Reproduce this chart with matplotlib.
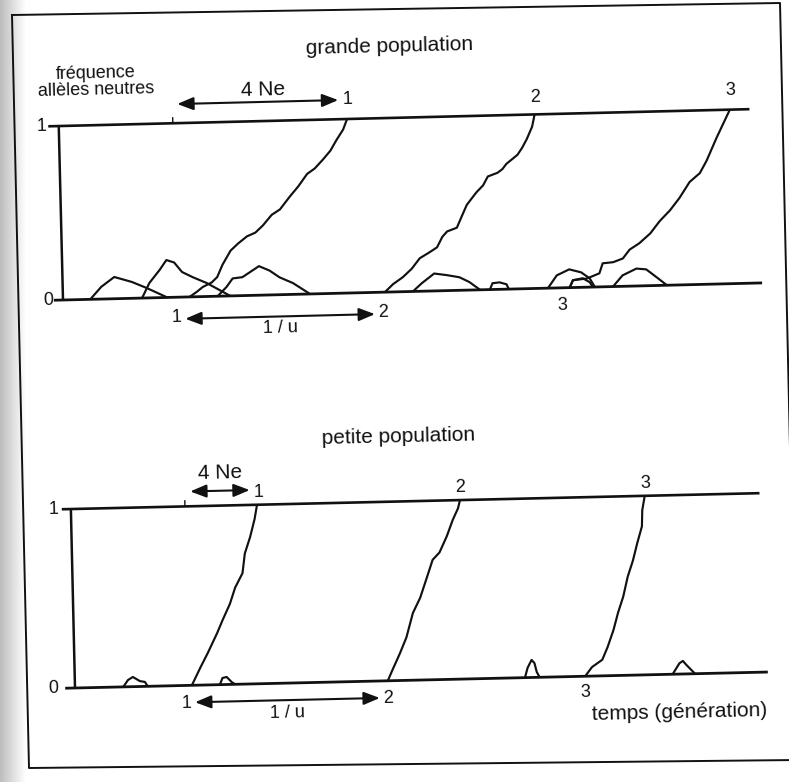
import numpy as np
import matplotlib
matplotlib.use("Agg")
import matplotlib.pyplot as plt
from matplotlib.lines import Line2D
from matplotlib.transforms import Affine2D

plt.rcParams['font.family'] = ['Liberation Sans', 'DejaVu Sans']

# ---------------------------------------------------------------
# Allele frequency trajectories (time in arbitrary generation units,
# frequency between 0 and 1)
# ---------------------------------------------------------------

# grande population : alleles reaching fixation
big_fix1_t = [18.1, 19.2, 20.0, 21.3, 22.1, 22.9, 24.1, 25.2, 26.5, 27.7, 28.8, 30.1, 31.3, 32.7, 34.0, 35.3, 36.4, 37.6, 38.7, 39.6, 40.6, 41.2]
big_fix1_f = [0.0, 0.030, 0.055, 0.080, 0.11, 0.18, 0.26, 0.30, 0.34, 0.36, 0.40, 0.46, 0.49, 0.56, 0.62, 0.69, 0.72, 0.77, 0.82, 0.88, 0.94, 1.0]
big_fix2_t = [46.0, 47.2, 48.6, 49.9, 51.1, 52.4, 53.6, 54.4, 55.1, 56.5, 57.3, 58.0, 59.4, 60.4, 61.1, 62.5, 63.2, 63.8, 65.4, 66.1, 66.8, 67.6, 68.0]
big_fix2_f = [0.0, 0.045, 0.083, 0.13, 0.19, 0.22, 0.25, 0.31, 0.34, 0.36, 0.43, 0.49, 0.56, 0.60, 0.65, 0.67, 0.69, 0.72, 0.77, 0.81, 0.86, 0.93, 1.0]
big_fix3_t = [72.4, 72.9, 74.9, 76.7, 77.2, 78.7, 80.1, 81.1, 82.5, 84.1, 85.5, 87.0, 88.4, 89.9, 91.4, 92.4, 93.9, 94.9, 95.9]
big_fix3_f = [0.0, 0.042, 0.05, 0.078, 0.135, 0.14, 0.16, 0.21, 0.245, 0.30, 0.37, 0.43, 0.50, 0.59, 0.64, 0.71, 0.84, 0.92, 1.0]

# grande population : alleles lost by drift
big_lost_a_t = [3.9, 5.5, 7.4, 9.9, 12.0, 14.9]
big_lost_a_f = [0.0, 0.07, 0.125, 0.094, 0.057, 0.0]
big_lost_b_t = [11.3, 12.4, 13.9, 14.9, 16.0, 17.1, 18.6, 20.6, 22.4, 23.9]
big_lost_b_f = [0.0, 0.086, 0.159, 0.215, 0.20, 0.144, 0.113, 0.077, 0.035, 0.0]
big_lost_c_t = [22.1, 23.4, 24.3, 25.7, 28.1, 29.6, 31.0, 32.9, 35.3]
big_lost_c_f = [0.0, 0.052, 0.10, 0.106, 0.167, 0.14, 0.10, 0.065, 0.0]
big_lost_d_t = [50.0, 51.3, 53.1, 54.9, 56.7, 58.1, 59.6]
big_lost_d_f = [0.0, 0.046, 0.10, 0.089, 0.075, 0.046, 0.0]
big_lost_e_t = [61.0, 61.4, 62.4, 63.4, 63.7]
big_lost_e_f = [0.0, 0.036, 0.04, 0.028, 0.0]
big_lost_f_t = [69.3, 70.6, 72.4, 74.1, 75.3, 76.0]
big_lost_f_f = [0.0, 0.072, 0.105, 0.086, 0.05, 0.0]
big_lost_g_t = [72.4, 72.9, 74.3, 75.3, 75.7]
big_lost_g_f = [0.0, 0.042, 0.052, 0.028, 0.0]
big_lost_h_t = [78.6, 80.0, 82.0, 83.4, 84.9, 86.3]
big_lost_h_f = [0.0, 0.063, 0.10, 0.094, 0.046, 0.0]

# petite population : alleles reaching fixation
small_fix1_t = [16.7, 18.0, 19.1, 20.5, 21.3, 22.4, 23.2, 24.3, 24.7, 25.5, 26.2, 26.6]
small_fix1_f = [0.0, 0.10, 0.18, 0.29, 0.36, 0.45, 0.54, 0.62, 0.73, 0.82, 0.92, 1.0]
small_fix2_t = [44.7, 45.4, 46.5, 47.5, 48.5, 49.6, 50.6, 51.5, 52.5, 53.6, 54.5, 55.3, 55.6]
small_fix2_f = [0.0, 0.06, 0.15, 0.24, 0.375, 0.46, 0.57, 0.67, 0.71, 0.80, 0.89, 0.955, 1.0]
small_fix3_t = [72.9, 73.9, 75.4, 76.2, 77.1, 77.8, 78.6, 79.3, 80.1, 80.8, 81.5, 81.6, 82.0]
small_fix3_f = [0.0, 0.05, 0.09, 0.16, 0.255, 0.35, 0.44, 0.55, 0.64, 0.74, 0.83, 0.92, 1.0]

# petite population : alleles lost by drift
small_lost_a_t = [6.9, 7.6, 8.3, 9.3, 10.0, 10.4]
small_lost_a_f = [0.0, 0.038, 0.054, 0.03, 0.025, 0.0]
small_lost_b_t = [20.7, 21.1, 21.7, 22.4, 22.9]
small_lost_b_f = [0.0, 0.037, 0.042, 0.013, 0.0]
small_lost_c_t = [64.3, 64.7, 65.3, 65.7, 66.0, 66.4]
small_lost_c_f = [0.0, 0.054, 0.098, 0.08, 0.03, 0.0]
small_lost_d_t = [85.4, 86.4, 86.9, 87.4, 88.6]
small_lost_d_f = [0.0, 0.06, 0.073, 0.05, 0.0]

# Time spans shown by the double arrows
big_drift_span = (17.0, 40.0)      # 4 Ne
big_mut_span = (17.4, 44.5)        # 1 / u
small_drift_span = (17.1, 25.6)    # 4 Ne
small_mut_span = (17.1, 43.5)      # 1 / u

INK = '#111111'
FS_TITLE = 15
FS_NUM = 13

fig = plt.figure(figsize=(7.89, 7.82), dpi=100)
fig.patch.set_facecolor('white')

# page shadow on the left edge and the frame around the figure
shade = fig.add_axes([0, 0, 0.032, 1], zorder=0)
grad = np.linspace(0.74, 1.0, 64)[None, :]
shade.imshow(grad, cmap='gray', vmin=0, vmax=1, aspect='auto', extent=(0, 1, 0, 1))
shade.set_axis_off()

W, H = 789.0, 782.0
frame_x = np.array([12, 780, 797, 29, 12]) / W
frame_y = 1 - np.array([15, 3, 760, 768, 15]) / H
fig.add_artist(Line2D(frame_x, frame_y, color=INK, lw=1.4, transform=fig.transFigure))


class Panel:
    """A frequency/time panel drawn slightly tilted about its origin."""

    def __init__(self, rect, tilt, top_span, base_span):
        ax = fig.add_axes(rect, zorder=2)
        ax.set_xlim(0, 100)
        ax.set_ylim(0, 1)
        ax.set_axis_off()
        ax.patch.set_alpha(0)
        ox, oy = ax.transData.transform((0, 0))
        self.ax = ax
        self.tilt = tilt
        self.tf = ax.transData + Affine2D().rotate_deg_around(ox, oy, tilt)
        self.line(top_span, [1, 1], lw=1.9)
        self.line(base_span, [0, 0], lw=2.0)
        self.line([0, 0], [0, 1], lw=1.8)

    def line(self, t, f, lw=1.55):
        self.ax.plot(t, f, color=INK, lw=lw, solid_joinstyle='round',
                     solid_capstyle='butt', transform=self.tf, clip_on=False)

    def arrow(self, span, y):
        self.ax.annotate('', xy=(span[1], y), xytext=(span[0], y),
                         xycoords=self.tf, textcoords=self.tf, annotation_clip=False,
                         arrowprops=dict(arrowstyle='<|-|>,head_length=0.75,head_width=0.3',
                                         mutation_scale=13, color=INK, lw=1.5,
                                         shrinkA=0, shrinkB=0))

    def label(self, t, y, s, size=FS_NUM, ha='center', **kw):
        self.ax.text(t, y, s, ha=ha, va='center', fontsize=size, color=INK,
                     transform=self.tf, rotation=self.tilt, rotation_mode='anchor',
                     clip_on=False, **kw)


# ---------------- grande population ----------------
top = Panel([63 / W, 1 - 300 / H, 700 / W, 174 / H], tilt=1.4,
            top_span=[-1.5, 98.7], base_span=[-1.3, 99.9])
for t, f in [(big_fix1_t, big_fix1_f), (big_fix2_t, big_fix2_f), (big_fix3_t, big_fix3_f),
             (big_lost_a_t, big_lost_a_f), (big_lost_b_t, big_lost_b_f),
             (big_lost_c_t, big_lost_c_f), (big_lost_d_t, big_lost_d_f),
             (big_lost_e_t, big_lost_e_f), (big_lost_f_t, big_lost_f_f),
             (big_lost_g_t, big_lost_g_f), (big_lost_h_t, big_lost_h_f)]:
    top.line(t, f)

top.line([16.3, 16.3], [1, 1.035], lw=1.0)
top.arrow(big_drift_span, 1.11)
top.label(29.3, 1.18, '4 Ne', size=FS_TITLE)
top.label(41.3, 1.11, '1')
top.label(68.1, 1.10, '2')
top.label(96.0, 1.11, '3')
top.arrow(big_mut_span, -0.125)
top.label(16.2, -0.115, '1')
top.label(45.7, -0.115, '2')
top.label(30.9, -0.19, '1 / u')
top.label(71.3, -0.10, '3')
top.label(-1.7, 1.0, '1', ha='right')
top.label(-1.4, 0.0, '0', ha='right')
top.label(47.5, 1.41, 'grande population', size=FS_TITLE)
top.label(5.5, 1.25, 'fréquence\nallèles neutres', size=13, linespacing=1.0)

# ---------------- petite population ----------------
bot = Panel([75 / W, 1 - 688 / H, 700 / W, 179 / H], tilt=1.32,
            top_span=[-1.3, 98.4], base_span=[-1.4, 99.0])
for t, f in [(small_fix1_t, small_fix1_f), (small_fix2_t, small_fix2_f),
             (small_fix3_t, small_fix3_f), (small_lost_a_t, small_lost_a_f),
             (small_lost_b_t, small_lost_b_f), (small_lost_c_t, small_lost_c_f),
             (small_lost_d_t, small_lost_d_f)]:
    bot.line(t, f)

bot.line([16.3, 16.3], [1, 1.035], lw=1.0)
bot.arrow(small_drift_span, 1.083)
bot.label(21.4, 1.18, '4 Ne', size=FS_TITLE)
bot.label(26.8, 1.07, '1')
bot.label(55.7, 1.07, '2')
bot.label(82.1, 1.07, '3')
bot.arrow(small_mut_span, -0.095)
bot.label(15.9, -0.098, '1')
bot.label(44.7, -0.096, '2')
bot.label(30.2, -0.167, '1 / u')
bot.label(72.8, -0.088, '3')
bot.label(-1.7, 1.0, '1', ha='right')
bot.label(-2.4, 0.0, '0', ha='right')
bot.label(47.0, 1.36, 'petite population', size=FS_TITLE)
bot.label(86.3, -0.217, 'temps (génération)', size=FS_TITLE)

fig.savefig('out.png', dpi=100, facecolor='white')
